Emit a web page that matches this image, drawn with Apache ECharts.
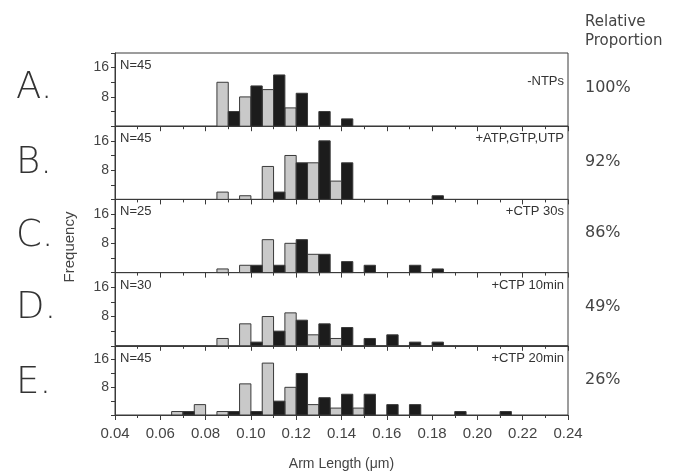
<!DOCTYPE html>
<html><head><meta charset="utf-8">
<script src="https://cdn.jsdelivr.net/npm/echarts@6/dist/echarts.min.js"></script>
<style>html,body{margin:0;padding:0;background:#fff}#c{width:675px;height:472px}</style>
</head><body><div id="c"></div>
<script>
const bins = [0.07,0.08,0.09,0.10,0.11,0.12,0.13,0.14,0.15,0.16,0.17,0.18,0.19,0.20,0.21];
const greyA  = [0,0,12,8,10,5,0,0,0,0,0,0,0,0,0];
const blackA = [0,0,4,11,14,9,4,2,0,0,0,0,0,0,0];
const greyB  = [0,0,2,1,9,12,10,5,0,0,0,0,0,0,0];
const blackB = [0,0,0,0,2,10,16,10,0,0,0,1,0,0,0];
const greyC  = [0,0,1,2,9,8,5,0,0,0,0,0,0,0,0];
const blackC = [0,0,0,2,2,9,5,3,2,0,2,1,0,0,0];
const greyD  = [0,0,2,6,8,9,3,2,0,0,0,0,0,0,0];
const blackD = [0,0,0,1,4,7,6,5,2,3,1,1,0,0,0];
const greyE  = [1,3,1,9,15,8,3,2,2,0,0,0,0,0,0];
const blackE = [1,0,1,1,4,12,5,6,6,3,3,0,1,0,1];
const panelLetters = ['A.','B.','C.','D.','E.'];
const nLabels = ['N=45','N=45','N=25','N=30','N=45'];
const conditions = ['-NTPs','+ATP,GTP,UTP','+CTP 30s','+CTP 10min','+CTP 20min'];
const proportions = ['100%','92%','86%','49%','26%'];
const xTicks = [0.04,0.06,0.08,0.10,0.12,0.14,0.16,0.18,0.20,0.22,0.24];
const yLabels = [8,16];

const greys = [greyA,greyB,greyC,greyD,greyE];
const blacks = [blackA,blackB,blackC,blackD,blackE];

const chart = echarts.init(document.getElementById('c'));
const top0 = 53, ph = 73.2, left = 115, right = 107;
const letterY = [88,163,236,308,383];
const propY = [88,162,233,307,380];
const grids = [], xAxes = [], yAxes = [], series = [], graphics = [];
const font = 'Liberation Sans, Arial, sans-serif';

function rectSeries(idx, arr, side, color){
  const data = [];
  bins.forEach((b,i)=>{ if(arr[i]>0) data.push([b, arr[i]]); });
  return {
    type:'custom', xAxisIndex: idx, yAxisIndex: idx, data,
    renderItem: function(params, api){
      const c = api.value(0), v = api.value(1);
      const x0 = side < 0 ? c - 0.005 : c;
      const x1 = side < 0 ? c : c + 0.005;
      const p0 = api.coord([x0, v]);
      const p1 = api.coord([x1, 0]);
      return {type:'rect', shape:{x:p0[0], y:p0[1], width:p1[0]-p0[0], height:p1[1]-p0[1]},
        style:{fill: color, stroke:'#3a3a3a', lineWidth:1}};
    }
  };
}

for(let i=0;i<5;i++){
  const top = top0 + i*ph;
  grids.push({left, right, top, height: ph, show:true, borderColor:'#3a3a3a', borderWidth:1, backgroundColor:'transparent'});
  xAxes.push({type:'value', gridIndex:i, min:0.04, max:0.24, interval:0.02,
    axisLine:{show:true, lineStyle:{color:'#3a3a3a'}},
    axisTick:{show:true, length:5, lineStyle:{color:'#3a3a3a'}},
    minorTick:{show:true, splitNumber:2, length:3, lineStyle:{color:'#3a3a3a'}},
    splitLine:{show:false},
    axisLabel:{show: i===4, color:'#444', fontSize:15, fontFamily:font, margin:11,
      formatter: v => { const m = xTicks.find(t=>Math.abs(t-v)<1e-6); return m!==undefined ? m.toFixed(2) : ''; }},
    name: i===4 ? 'Arm Length (\u03bcm)' : '', nameLocation:'middle', nameGap:42,
    nameTextStyle:{color:'#444', fontSize:14, fontFamily:font}
  });
  yAxes.push({type:'value', gridIndex:i, min:0, max:20, interval:4,
    axisLine:{show:true, lineStyle:{color:'#3a3a3a'}},
    axisTick:{show:true, length:4, lineStyle:{color:'#3a3a3a'}},
    splitLine:{show:false},
    axisLabel:{color:'#444', fontSize:14, fontFamily:font, margin:6,
      formatter: v => yLabels.includes(v) ? String(v) : ''}
  });
  series.push(rectSeries(i, greys[i], -1, '#c9c9c9'));
  series.push(rectSeries(i, blacks[i], 1, '#1c1c1c'));
  graphics.push({type:'text', x: 16, y: letterY[i],
    style:{text: panelLetters[i], font:'300 37px "DejaVu Sans", sans-serif', fill:'#333', textVerticalAlign:'middle'}});
  graphics.push({type:'text', left: 120, top: top + 6,
    style:{text: nLabels[i], font:'13px '+font, fill:'#333'}});
  graphics.push({type:'text', right: right + 4, top: top + (i===0 ? 22 : 6),
    style:{text: conditions[i], font:'13px '+font, fill:'#333', textAlign:'right'}});
  graphics.push({type:'text', x: 585, y: propY[i],
    style:{text: proportions[i], font:'16px "DejaVu Sans", sans-serif', fill:'#444', textVerticalAlign:'middle'}});
}
graphics.push({type:'text', x:585, y:22, style:{text:'Relative', font:'15px "DejaVu Sans", sans-serif', fill:'#444', textVerticalAlign:'middle'}});
graphics.push({type:'text', x:585, y:41, style:{text:'Proportion', font:'15px "DejaVu Sans", sans-serif', fill:'#444', textVerticalAlign:'middle'}});
graphics.push({type:'text', x:70, y:247, rotation:Math.PI/2,
  style:{text:'Frequency', font:'15px '+font, fill:'#444', textAlign:'center', textVerticalAlign:'middle'}});

chart.setOption({animation:false, grid:grids, xAxis:xAxes, yAxis:yAxes, series, graphic:graphics});
</script></body></html>
